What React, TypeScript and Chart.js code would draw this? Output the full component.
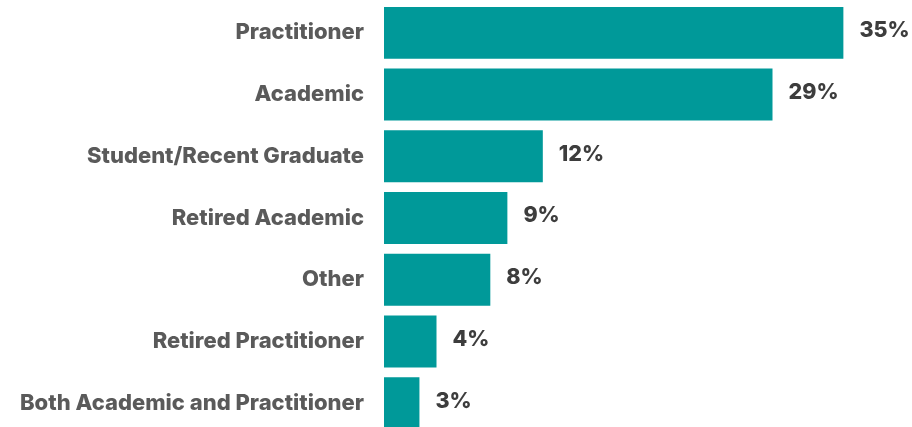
import React, { useEffect, useRef } from "react";
import { Chart, registerables } from "chart.js";

Chart.register(...registerables);

const categories = [
  "Practitioner",
  "Academic",
  "Student/Recent Graduate",
  "Retired Academic",
  "Other",
  "Retired Practitioner",
  "Both Academic and Practitioner",
];
const shares = [35.0, 29.6, 12.1, 9.4, 8.1, 4.0, 2.7];
const shareLabels = ["35%", "29%", "12%", "9%", "8%", "4%", "3%"];

const FONT = "Inter";

const valueLabelPlugin = {
  id: "valueLabels",
  afterDatasetsDraw(chart: any) {
    const ctx = chart.ctx;
    const meta = chart.getDatasetMeta(0);
    ctx.save();
    ctx.font = `800 21.5px ${FONT}`;
    ctx.fillStyle = "#3d3d3d";
    ctx.textAlign = "left";
    ctx.textBaseline = "middle";
    meta.data.forEach((bar: any, i: number) => {
      ctx.fillText(shareLabels[i], bar.x + 16, bar.y - 2);
    });
    ctx.restore();
  },
};

export default function App() {
  const ref = useRef<HTMLCanvasElement | null>(null);
  useEffect(() => {
    if (!ref.current) return;
    const chart = new Chart(ref.current, {
      type: "bar",
      data: {
        labels: categories,
        datasets: [
          {
            data: shares,
            backgroundColor: "#009999",
            borderWidth: 0,
            barPercentage: 0.842,
            categoryPercentage: 1,
          },
        ],
      },
      options: {
        indexAxis: "y",
        animation: false,
        responsive: false,
        layout: { padding: { top: 2, bottom: 3, left: 0, right: 3 } },
        plugins: {
          legend: { display: false },
          tooltip: { enabled: false },
        },
        scales: {
          x: { display: false, min: 0, max: 40 },
          y: {
            grid: { display: false, drawTicks: false },
            border: { display: false },
            ticks: {
              padding: 20,
              color: "#5a5a5a",
              font: { family: FONT, size: 22, weight: "800" },
            },
            afterFit(scale: any) {
              scale.width = 384;
              scale.paddingTop = 0;
              scale.paddingBottom = 0;
            },
          },
        },
      },
      plugins: [valueLabelPlugin],
    });
    return () => chart.destroy();
  }, []);
  return (
    <div style={{ position: "fixed", left: 0, top: 0, width: 912, height: 437 }}>
      <canvas ref={ref} width={912} height={437} style={{ display: "block" }} />
    </div>
  );
}
